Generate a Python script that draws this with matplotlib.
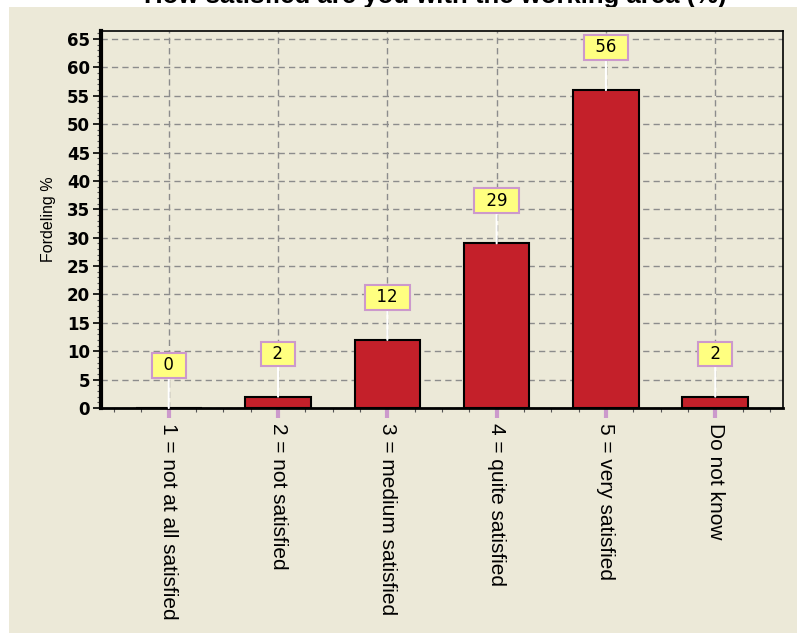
import matplotlib
matplotlib.use("Agg")
import matplotlib.pyplot as plt
from matplotlib.patches import Rectangle
from matplotlib.ticker import MultipleLocator

categories = ["1 = not at all satisfied", "2 = not satisfied", "3 = medium satisfied",
              "4 = quite satisfied", "5 = very satisfied", "Do not know"]
values = [0, 2, 12, 29, 56, 2]
title = "How satisfied are you with the working area (%)"
ylabel = "Fordeling %"

BG = "#ece9d8"
BAR = "#c4202a"

fig = plt.figure(figsize=(7.97, 6.33), dpi=100, facecolor="white")
fig.patches.append(Rectangle((9 / 797, 0), 1 - 9 / 797, 1 - 7 / 633, transform=fig.transFigure,
                             facecolor=BG, edgecolor="none", zorder=-5))
fig.text(727 / 797, 1 - 3.5 / 633, title, ha="right", va="baseline", fontsize=18.5,
         fontweight="bold", family="Liberation Sans", color="black", zorder=-10)

ax = fig.add_axes([101 / 797, 1 - 408 / 633, (783 - 101) / 797, (408 - 31) / 633])
ax.set_facecolor(BG)
x = list(range(len(categories)))
ax.bar(x, values, width=0.6, color=BAR, edgecolor="black", linewidth=1.5, zorder=3)
ax.set_xlim(-0.62, len(categories) - 1 + 0.62)
ax.set_ylim(0, 66.4)

ax.yaxis.set_major_locator(MultipleLocator(5))
ax.yaxis.set_minor_locator(MultipleLocator(1))
ax.xaxis.set_minor_locator(MultipleLocator(0.25))
ax.set_xticks(x)
ax.set_xticklabels(categories, rotation=270, ha="center", va="top", fontsize=15,
                   family="Liberation Sans")
for lab in ax.get_yticklabels():
    lab.set_fontweight("bold")
    lab.set_fontsize(12)
    lab.set_family("DejaVu Sans")

ax.grid(True, which="major", color="#8c8c8c", linestyle=(0, (4.5, 3)), linewidth=1, zorder=1)
ax.tick_params(axis="y", which="major", direction="out", length=6, width=1.2, color="black", pad=2)
ax.tick_params(axis="y", which="minor", direction="out", length=3, width=0.8, color="#555555")
ax.tick_params(axis="x", which="major", direction="out", length=7, width=3, color="#cc99cc", pad=4)
ax.tick_params(axis="x", which="minor", direction="out", length=3, width=0.8, color="#555555")

ax.spines["left"].set_linewidth(3)
ax.spines["bottom"].set_linewidth(2)
ax.spines["top"].set_linewidth(1.2)
ax.spines["right"].set_linewidth(1.2)
for s in ax.spines.values():
    s.set_color("black")
    s.set_zorder(5)

ax.set_ylabel(ylabel, fontsize=11.5, family="Liberation Sans", labelpad=8)

for xi, v in zip(x, values):
    ax.annotate("\u2002" + str(v) + "\u2002", xy=(xi, v), xytext=(xi, v + 7.5),
                ha="center", va="center", fontsize=12, family="DejaVu Sans",
                bbox=dict(boxstyle="square,pad=0.2", facecolor="#ffff80", edgecolor="#cc99cc", linewidth=1.5),
                arrowprops=dict(arrowstyle="-", color="white", lw=1.5, shrinkA=0, shrinkB=0),
                zorder=6)

fig.savefig("out.png", dpi=100, facecolor="white")
